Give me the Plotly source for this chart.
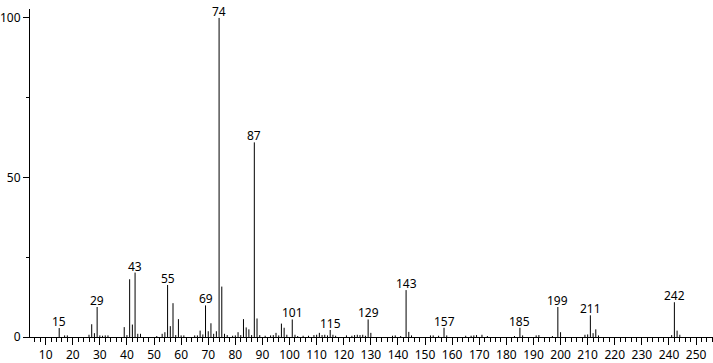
import plotly.graph_objects as go

# m/z values and relative intensities (%)
mz = [15, 17, 18, 26, 27, 28, 29, 30, 31, 32, 33, 39, 40, 41, 42, 43, 44, 45,
      51, 53, 54, 55, 56, 57, 58, 59, 60, 61, 65, 66, 67, 68, 69, 70, 71, 72, 73,
      74, 75, 76, 77, 79, 80, 81, 82, 83, 84, 85, 86, 87, 88, 89,
      91, 93, 94, 95, 96, 97, 98, 99, 101, 102, 103, 105, 107, 109, 110, 111,
      112, 113, 114, 115, 116, 117, 121, 123, 124, 125, 126, 127, 128, 129, 130,
      138, 139, 141, 143, 144, 145, 152, 153, 155, 157, 158, 165, 167, 168, 169,
      171, 173, 183, 185, 186, 191, 192, 197, 199, 200, 209, 210, 211, 212, 213,
      214, 241, 242, 243, 244]
intensity = [2.8, 0.5, 0.5, 0.7, 4.0, 1.2, 9.4, 0.5, 0.4, 0.5, 0.5, 3.1, 0.6, 18.1, 3.9, 20.2, 1.0, 1.0,
             0.3, 1.0, 1.5, 16.3, 3.4, 10.6, 0.6, 5.6, 0.5, 0.5, 0.5, 0.5, 2.0, 0.8, 9.9, 1.8, 4.3, 1.0, 1.8,
             100.0, 15.8, 1.0, 0.6, 0.4, 0.5, 1.5, 0.6, 5.6, 3.0, 2.4, 0.6, 61.0, 5.8, 0.6,
             0.4, 0.5, 0.6, 1.3, 0.5, 4.2, 2.9, 0.7, 5.5, 0.7, 0.3, 0.4, 0.4, 0.6, 0.7, 1.3,
             0.6, 0.7, 0.5, 2.2, 0.7, 0.4, 0.5, 0.4, 0.6, 0.7, 0.6, 0.7, 0.4, 5.5, 1.3,
             0.4, 0.5, 0.3, 14.7, 1.6, 0.5, 0.5, 0.5, 0.4, 2.9, 0.5, 0.4, 0.4, 0.5, 0.6,
             0.7, 0.3, 0.3, 2.9, 0.5, 0.5, 0.6, 0.3, 9.4, 1.5, 0.7, 0.8, 6.8, 1.2, 2.4,
             0.5, 0.6, 10.9, 2.0, 0.7]

labelled = [15, 29, 43, 55, 69, 74, 87, 101, 115, 129, 143, 157, 185, 199, 211, 242]

xs, ys = [], []
for m, h in zip(mz, intensity):
    xs += [m, m, None]
    ys += [0, h, None]

fig = go.Figure()
fig.add_trace(go.Scatter(x=xs, y=ys, mode="lines",
                         line=dict(color="black", width=1),
                         hoverinfo="skip", showlegend=False))

lookup = dict(zip(mz, intensity))
for m in labelled:
    fig.add_annotation(x=m, y=lookup[m], text=str(m), showarrow=False,
                       yanchor="bottom", xanchor="center", yshift=-4,
                       font=dict(size=12, color="black"))

fig.update_layout(
    width=713, height=363,
    margin=dict(l=27, r=0, t=9, b=22),
    paper_bgcolor="white", plot_bgcolor="white",
    font=dict(family="Noto Sans", size=12, color="black"),
    showlegend=False,
)
fig.update_xaxes(range=[4.23, 256.25], showgrid=False, zeroline=False,
                 showline=True, linecolor="black", linewidth=1,
                 ticks="outside", ticklen=7, tickcolor="black", tickwidth=1,
                 tick0=0, dtick=10,
                 minor=dict(dtick=2, ticks="outside", ticklen=4, tickcolor="black", tickwidth=1),
                 tickfont=dict(size=12, color="black"))
fig.update_yaxes(range=[0, 102.8], showgrid=False, zeroline=False,
                 showline=True, linecolor="black", linewidth=1,
                 ticks="outside", ticklen=6, tickcolor="black", tickwidth=1,
                 tickvals=[0, 50, 100],
                 minor=dict(tickvals=[25, 75], ticks="outside", ticklen=3, tickcolor="black", tickwidth=1),
                 tickfont=dict(size=12, color="black"))

fig.write_html("out.html")
